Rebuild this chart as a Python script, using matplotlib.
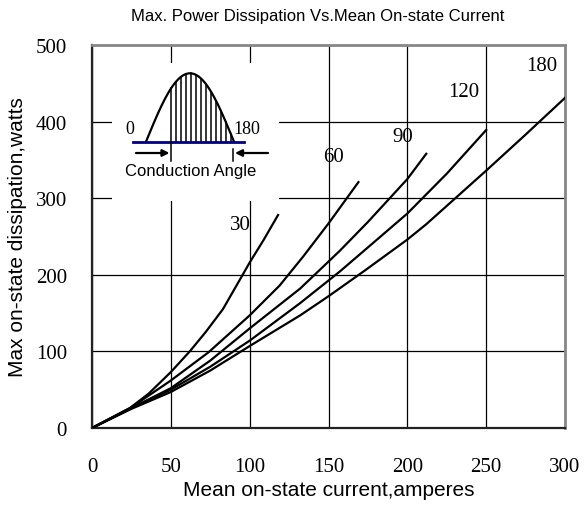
import numpy as np
import matplotlib
matplotlib.use("Agg")
import matplotlib.pyplot as plt

# Curvas: angulo de conduccion -> (corriente media, potencia disipada)
x_30 = [0, 24, 36, 50, 62, 72, 83, 95, 100, 109, 118]
y_30 = [0, 26, 45, 73, 100, 125, 155, 198, 216, 246, 278]
x_60 = [0, 25, 50, 74, 100, 119, 134, 150, 169]
y_60 = [0, 27, 62, 99, 147, 186, 224, 267, 321]
x_90 = [0, 25, 50, 75, 100, 132, 157, 175, 200, 212]
y_90 = [0, 26, 52, 88, 130, 182, 231, 269, 325, 358]
x_120 = [0, 25, 50, 75, 100, 132, 157, 174, 200, 225, 250]
y_120 = [0, 26, 50, 80, 114, 163, 204, 234, 280, 332, 389]
x_180 = [0, 25, 50, 75, 100, 132, 150, 174, 200, 212, 250, 275, 300]
y_180 = [0, 25, 47, 75, 107, 147, 172, 207, 246, 266, 336, 383, 431]

angles = ["30", "60", "90", "120", "180"]
label_pos = [(94, 266), (153, 355), (197, 381), (236, 439), (285, 473)]

x_ticks = [0, 50, 100, 150, 200, 250, 300]
y_ticks = [0, 100, 200, 300, 400, 500]

SERIF = ["Liberation Serif", "DejaVu Serif"]
SANS = ["Liberation Sans", "DejaVu Sans"]

W, H = 584, 506
fig = plt.figure(figsize=(W / 100, H / 100), dpi=100)
ax = fig.add_axes([92 / W, 1 - 429 / H, 473 / W, 383 / H])

for xs, ys in [(x_30, y_30), (x_60, y_60), (x_90, y_90), (x_120, y_120), (x_180, y_180)]:
    ax.plot(xs, ys, color="black", lw=1.6, zorder=3, solid_joinstyle="round")

for txt, (lx, ly) in zip(angles, label_pos):
    ax.text(lx, ly, txt, family=SERIF, fontsize=15, ha="center", va="center", zorder=4)

ax.set_xlim(0, 300)
ax.set_ylim(0, 500)
ax.set_xticks(x_ticks)
ax.set_yticks(y_ticks)
ax.tick_params(length=0, labelsize=15)
ax.tick_params(axis="x", pad=21)
ax.tick_params(axis="y", pad=18)
for lab in ax.get_xticklabels() + ax.get_yticklabels():
    lab.set_family(SERIF)
ax.grid(color="black", lw=0.9)
ax.set_axisbelow(True)
for side in ["left", "bottom"]:
    ax.spines[side].set_color("#222222")
    ax.spines[side].set_linewidth(1.6)
for side in ["top", "right"]:
    ax.spines[side].set_color("#888888")
    ax.spines[side].set_linewidth(2)

ax.set_xlabel("Mean on-state current,amperes", family=SANS, fontsize=15, labelpad=3)
ax.set_ylabel("Max on-state dissipation,watts", family=SANS, fontsize=15, labelpad=6)
fig.text(318 / W, 1 - 17 / H, "Max. Power Dissipation Vs.Mean On-state Current",
         family=SANS, fontsize=12, ha="center", va="center")

# Recuadro con el esquema del angulo de conduccion (coordenadas en pixeles)
ins = fig.add_axes([112 / W, 1 - 202 / H, 167 / W, 138 / H])
ins.set_xlim(112, 279)
ins.set_ylim(202, 64)
ins.set_xticks([])
ins.set_yticks([])
for s in ins.spines.values():
    s.set_visible(False)
ins.set_facecolor("white")

base, x0, x1, amp = 142.7, 146, 234, 68.4
t = np.linspace(x0, x1, 200)
ins.plot(t, base - amp * np.sin(np.pi * (t - x0) / (x1 - x0)), color="black", lw=1.6)
for hx in np.arange(171, 234, 5):
    top = base - amp * np.sin(np.pi * (hx - x0) / (x1 - x0))
    ins.plot([hx, hx], [base, top], color="black", lw=1.1)
ins.plot([133.3, 244.3], [base, base], color="#000080", lw=2)
ins.plot([171, 171], [base, 161.7], color="black", lw=1.1)
ins.plot([233.3, 233.3], [150, 161.7], color="black", lw=1.1)
ins.annotate("", xy=(169.5, 154), xytext=(136, 154),
             arrowprops=dict(arrowstyle="-|>", color="black", lw=1.6, shrinkA=0, shrinkB=0,
                             mutation_scale=10))
ins.annotate("", xy=(235, 154), xytext=(268, 154),
             arrowprops=dict(arrowstyle="-|>", color="black", lw=1.6, shrinkA=0, shrinkB=0,
                             mutation_scale=10))
ins.text(130, 129.3, "0", family=SERIF, fontsize=13, ha="center", va="center")
ins.text(247, 129.3, "180", family=SERIF, fontsize=13, ha="center", va="center")
ins.text(191, 171.7, "Conduction Angle", family=SANS, fontsize=12, ha="center", va="center")

fig.savefig("out.png", dpi=100)
